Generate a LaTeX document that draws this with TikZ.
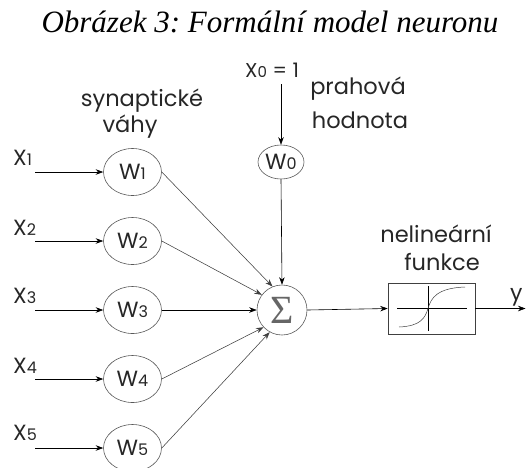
\documentclass[tikz,border=0pt]{standalone}
\usepackage{fontspec}
\setmainfont{Poppins}
\newfontfamily\titlefont{Liberation Serif}
\usetikzlibrary{shapes.geometric,arrows.meta}
\frenchspacing

% a letter followed by a smaller numeral on the same baseline
\newcommand\idx[2]{#1{\fontsize{16}{16}\selectfont #2}}

\tikzset{
  lbl/.style={font=\fontsize{22.5}{24}\selectfont, text=black!85, inner sep=0pt},
  wnode/.style={ellipse, draw=black!65, line width=0.6pt, minimum width=58pt,
                minimum height=47pt, inner sep=0pt, text=black!85,
                font=\fontsize{22}{22}\selectfont},
  feed/.style={-{Stealth[length=7.5pt,width=5.5pt]}, line width=0.6pt, black},
  link/.style={-{Stealth[length=7.5pt,width=5.5pt]}, line width=0.55pt, black!75},
}

\begin{document}
\begin{tikzpicture}[x=1pt,y=-1pt]
\useasboundingbox (0,0) rectangle (526,467);

% caption
\node[anchor=base, inner sep=0pt, font=\titlefont\itshape\fontsize{31}{32}\selectfont]
  (title) at (270,32) {Obrázek 3: Formální model neuronu};

% annotations
\node[lbl, anchor=base] (syn)  at (142,106) {synaptické};
\node[lbl, anchor=base] (vah)  at (130,132) {váhy};
\node[lbl, anchor=base] (prah) at (358,94)  {prahová};
\node[lbl, anchor=base] (hod)  at (360,128) {hodnota};
\node[lbl, anchor=base] (nel)  at (436,242) {nelineární};
\node[lbl, anchor=base] (fun)  at (442,270) {funkce};

% bias input
\node[lbl, anchor=base west, font=\fontsize{20}{20}\selectfont] (x0) at (245,77)
  {X{\fontsize{15}{15}\selectfont 0}\;=\;1};
\coordinate (x0a) at (281,84);
\node[wnode, minimum width=46pt, minimum height=34pt] (w0) at (281,162) {\idx{W}{0}};
\draw[feed] (x0a) -- (w0.north);

% summation and activation
\node[circle, draw=black!65, line width=0.6pt, minimum size=50pt, inner sep=0pt]
  (sum) at (282,310) {\textcolor{black!60}{\titlefont\fontsize{40}{40}\selectfont Σ}};
\node[rectangle, draw=black!75, line width=0.6pt, minimum width=87pt,
      minimum height=51pt, inner sep=0pt] (act) at (431.5,308.5) {};
\draw[line width=0.5pt] (397,308.5) -- (467,308.5);
\draw[line width=0.5pt] (428,286) -- (428,331);
\draw[line width=0.5pt, black!75] (399,327) .. controls (421,326) and (425,318) .. (428,308.5)
  .. controls (431,298) and (437,288) .. (465,287);

% inputs and weights
\foreach \i/\y/\ly in {1/172/165, 2/241/235, 3/310/303, 4/379/373, 5/448/440}{
  \node[lbl, anchor=base west, font=\fontsize{22}{22}\selectfont] (x\i) at (13,\ly) {\idx{X}{\i}};
  \coordinate (xa\i) at (35,\y);
  \node[wnode] (w\i) at (132.5,\y) {\idx{W}{\i}};
  \draw[feed] (xa\i) -- (w\i.west);
}
\draw[link] (w1.east) -- (sum.112);
\draw[link] (w2.east) -- (sum.143);
\draw[feed] (w3.east) -- (sum.west);
\draw[link] (w4.east) -- (sum.223);
\draw[link] (w5.east) -- (sum.241);
\draw[feed] (w0.south) -- (sum.north);

% output
\draw[feed] (sum.east) -- (act.west);
\coordinate (out) at (525.5,308.5);
\draw[feed] (act.east) -- (out);
\node[lbl, anchor=base west, font=\fontsize{22}{22}\selectfont] (y) at (510,300) {y};
\end{tikzpicture}
\end{document}
